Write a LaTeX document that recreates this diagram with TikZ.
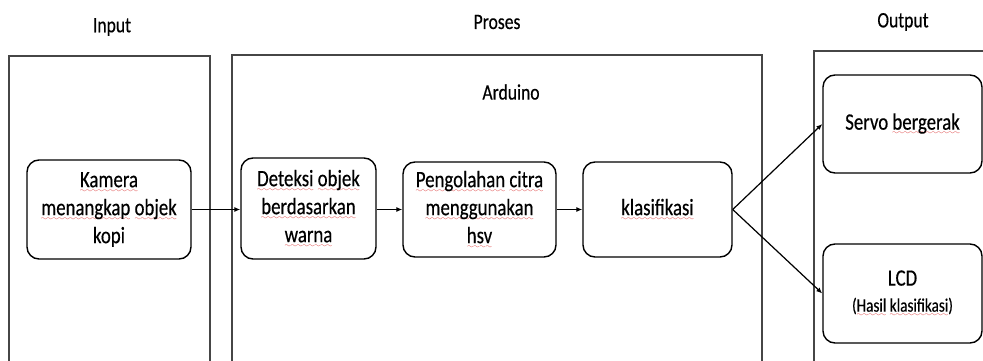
\documentclass[tikz,border=0pt]{standalone}
\usepackage{fontspec}
\setmainfont[FakeStretch=0.8,FakeBold=0.4]{Carlito}
\usepackage{xcolor}
\usetikzlibrary{arrows.meta}
\usetikzlibrary{positioning}
\definecolor{spellred}{RGB}{215,30,30}
\definecolor{panelgray}{RGB}{70,70,70}
\font\wavefont=lasy7
\newcommand\spell[1]{\setbox0\hbox{#1}\rlap{\lower5pt\hbox to \wd0{\color{spellred}\xleaders\hbox{\wavefont\char58}\hfil}}\box0\relax}
\tikzset{step box/.style={draw,rounded corners=12pt,line width=1.4pt,align=center,
           font=\fontsize{23.5}{28}\selectfont,inner sep=0pt},
         panel/.style={draw=panelgray,line width=1.1pt},
         title/.style={font=\fontsize{22}{26}\selectfont},
         arr/.style={-{Latex[length=6pt,width=5pt]},line width=1.2pt},
         }
\begin{document}
\begin{tikzpicture}[x=1pt,y=-1pt]
		\useasboundingbox (0,0) rectangle (983,361);
		\clip (0,0) rectangle (983,361);
		% panels
		\draw[panel] (9,370) -- (9,56) -- (210,56) -- (210,370);
		\draw[panel] (232,370) -- (232,55) -- (762,55) -- (762,370);
		\draw[panel] (814,370) -- (814,51) -- (990,51);
		\node[title] (input) at (112,27) {Input};
		\node[title] (proses) at (497,22) {Proses};
		\node[title] (output) at (903,22) {Output};
		\node[font=\fontsize{22}{26}\selectfont] (arduino) at (511,92) {Arduino};
		% blocks
		\node[step box,minimum width=164pt,minimum height=99pt] (kamera) at (109,209.5)
			{\spell{Kamera}\\\spell{menangkap} \spell{objek}\\kopi};
		\node[step box,minimum width=135pt,minimum height=101pt] (deteksi) at (308.5,208.5)
			{\spell{Deteksi} \spell{objek}\\\spell{berdasarkan}\\\spell{warna}};
		\node[step box,minimum width=153pt,minimum height=95pt] (olah) at (479.5,209.5)
			{\spell{Pengolahan} \spell{citra}\\\spell{menggunakan}\\\spell{hsv}};
		\node[step box,minimum width=149pt,minimum height=95pt] (klas) at (657.5,209.5)
			{\spell{klasifikasi}};
		\node[step box,minimum width=159pt,minimum height=98pt] (servo) at (902.5,124)
			{Servo \spell{bergerak}};
		\node[step box,minimum width=159pt,minimum height=99pt] (lcd) at (902.5,293.5)
			{LCD\\[-2pt]{\fontsize{19}{22}\selectfont(\spell{Hasil} \spell{klasifikasi})}};
		% arrows
		\draw[arr] (kamera.east) -- (kamera.east -| deteksi.west);
		\draw[arr] (deteksi.east |- olah.west) -- (olah.west);
		\draw[arr] (olah.east) -- (klas.west);
		\draw[arr] (klas.east) -- (servo.west);
		\draw[arr] (klas.east) -- (lcd.west);
\end{tikzpicture}
\end{document}
